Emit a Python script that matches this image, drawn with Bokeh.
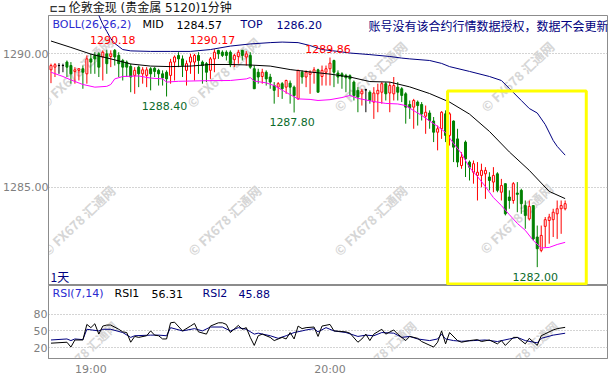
from bokeh.plotting import figure
from bokeh.layouts import column
from bokeh.models import Range1d, FixedTicker, Label, ColumnDataSource, PrintfTickFormatter
from bokeh.core.properties import value
from bokeh.embed import file_html
from bokeh.resources import INLINE

# ---------------- data (1-minute candles, index 0 = 18:50) ----------------
open_ = [1289.40,1289.50,1289.56,1289.56,1289.69,1289.56,1289.34,1289.38,1289.44,1289.25,
         1289.81,1289.94,1290.00,1289.88,1290.00,1289.90,1290.13,1289.94,1289.75,1289.69,
         1289.53,1289.19,1289.50,1289.25,1289.19,1289.44,1289.46,1289.38,1289.25,1289.31,
         1289.19,1289.69,1289.94,1289.81,1289.38,1289.69,1289.69,1289.94,1289.69,1289.63,
         1289.38,1289.81,1290.13,1290.06,1290.06,1290.06,1289.78,1289.90,1290.13,1289.88,
         1289.94,1289.44,1289.31,1289.15,1289.31,1289.13,1288.81,1288.75,1288.88,1288.75,
         1288.90,1288.75,1288.31,1289.31,1289.13,1289.23,1289.30,1289.40,1289.15,1289.31,
         1289.44,1289.75,1289.28,1289.25,1289.19,1289.18,1288.94,1288.63,1288.50,1288.65,
         1288.56,1288.19,1288.50,1288.56,1288.88,1288.53,1288.50,1288.75,1288.69,1288.50,
         1288.10,1288.00,1288.19,1288.10,1287.66,1287.78,1287.48,1287.06,1287.19,1287.75,
         1286.94,1287.48,1286.81,1285.81,1286.69,1285.94,1285.56,1285.44,1285.44,1285.50,
         1285.38,1285.19,1285.50,1284.81,1285.13,1284.63,1284.50,1284.78,1284.88,1284.31,
         1283.81,1284.31,1283.13,1282.63,1283.53,1283.75,1283.78,1284.00,1284.19,1284.19]
high_ = [1289.63,1289.65,1289.65,1289.63,1289.75,1289.69,1289.50,1289.46,1289.56,1289.94,
         1290.00,1290.06,1290.06,1290.13,1290.15,1290.13,1290.18,1290.06,1289.81,1289.75,
         1289.63,1289.50,1289.56,1289.50,1289.50,1289.50,1289.50,1289.44,1289.38,1289.38,
         1289.81,1289.94,1290.06,1289.94,1289.75,1290.00,1290.00,1290.06,1289.75,1289.69,
         1289.88,1290.17,1290.15,1290.13,1290.13,1290.13,1290.00,1290.15,1290.15,1290.10,
         1290.06,1289.56,1289.44,1289.44,1289.38,1289.25,1288.94,1288.94,1288.94,1289.03,
         1289.00,1288.81,1289.40,1289.38,1289.38,1289.38,1289.50,1289.44,1289.56,1289.56,
         1289.86,1289.78,1289.38,1289.31,1289.25,1289.23,1289.00,1288.75,1288.69,1288.69,
         1288.63,1288.75,1288.88,1288.94,1288.94,1288.94,1289.13,1288.94,1288.75,1288.56,
         1288.25,1288.31,1288.25,1288.19,1288.06,1287.88,1287.63,1287.31,1287.85,1287.88,
         1287.81,1287.50,1287.19,1286.31,1286.75,1286.00,1286.00,1285.94,1285.88,1285.75,
         1285.56,1285.75,1285.56,1285.31,1285.13,1284.88,1285.19,1285.19,1284.94,1284.50,
         1284.50,1284.31,1283.56,1283.56,1283.88,1284.00,1284.19,1284.50,1284.50,1284.50]
low_ = [1288.90,1289.13,1289.25,1289.31,1289.13,1288.88,1288.88,1289.00,1288.69,1288.88,
        1289.25,1289.25,1289.13,1289.00,1289.25,1289.50,1289.56,1289.13,1289.00,1289.13,
        1288.56,1288.50,1288.75,1288.88,1288.75,1288.63,1289.13,1288.81,1288.81,1288.40,
        1288.88,1289.00,1289.50,1289.13,1288.81,1289.25,1289.00,1289.25,1288.88,1288.94,
        1289.06,1289.31,1289.81,1289.88,1289.75,1289.50,1289.50,1289.63,1289.75,1289.56,
        1289.44,1288.69,1288.88,1288.88,1288.81,1288.69,1288.13,1288.38,1288.31,1288.50,
        1288.13,1287.80,1288.28,1288.88,1288.75,1288.50,1288.88,1288.56,1288.81,1288.81,
        1288.81,1288.75,1288.88,1288.69,1288.56,1288.44,1288.25,1287.81,1288.06,1287.81,
        1288.13,1287.56,1287.81,1288.13,1288.25,1287.81,1288.25,1288.25,1288.19,1287.38,
        1287.56,1287.19,1287.31,1287.50,1287.00,1287.19,1286.69,1286.38,1286.81,1286.69,
        1286.56,1285.94,1285.75,1285.69,1285.38,1285.25,1285.13,1284.50,1285.00,1284.56,
        1284.88,1284.81,1284.81,1284.50,1283.94,1284.19,1284.38,1284.06,1284.00,1283.44,
        1283.75,1283.00,1282.00,1282.56,1282.75,1282.88,1283.13,1283.06,1283.25,1284.13]
close_ = [1289.56,1289.59,1289.56,1289.56,1289.50,1289.25,1289.40,1289.44,1289.31,1289.81,
          1289.69,1289.81,1289.50,1290.06,1289.63,1290.00,1289.88,1289.63,1289.50,1289.50,
          1289.13,1289.38,1289.25,1289.40,1289.40,1289.25,1289.34,1289.25,1289.10,1289.06,
          1289.69,1289.88,1289.81,1289.56,1289.63,1289.88,1289.94,1289.75,1289.56,1289.31,
          1289.81,1290.06,1290.00,1289.94,1289.94,1289.63,1289.94,1290.06,1289.94,1290.00,
          1289.50,1288.69,1289.13,1289.31,1289.06,1288.94,1288.63,1288.88,1288.69,1289.00,
          1288.75,1288.44,1289.38,1289.13,1289.31,1289.31,1289.40,1288.56,1289.38,1289.44,
          1289.65,1289.31,1289.13,1289.15,1289.10,1289.06,1288.44,1288.38,1288.60,1288.65,
          1288.25,1288.53,1288.63,1288.88,1288.50,1288.81,1288.81,1288.56,1288.44,1288.00,
          1287.98,1288.25,1288.06,1287.75,1287.81,1287.50,1287.06,1287.19,1287.81,1286.94,
          1287.75,1286.50,1285.94,1286.13,1286.06,1285.75,1285.88,1285.56,1285.63,1285.63,
          1285.25,1285.44,1284.88,1285.06,1284.00,1284.50,1285.13,1284.73,1284.38,1283.94,
          1284.28,1283.06,1282.69,1283.19,1283.78,1283.88,1284.06,1284.19,1284.31,1284.38]

# Bollinger bands (26,26,2)
mid_idx = [0,5,10,15,20,25,30,35,40,45,50,55,60,65,70,75,80,85,90,95,100,105,110,115,120,125,129]
mid_val = [1290.48,1290.24,1289.99,1289.81,1289.62,1289.54,1289.52,1289.54,1289.60,1289.60,
           1289.58,1289.54,1289.41,1289.32,1289.24,1289.13,1288.96,1288.94,1288.76,1288.51,
           1288.19,1287.74,1287.09,1286.32,1285.63,1284.84,1284.57]
top_idx = [0,6,10,12,13,14,15,16,18,20,25,30,35,40,45,50,55,58,62,65,68,72,75,80,85,88,90,
           95,98,100,105,110,113,115,118,120,122,124,126,127,129]
top_val = [1292.30,1292.10,1291.80,1291.44,1291.10,1290.84,1290.57,1290.39,1290.16,1290.11,
           1290.09,1290.09,1290.09,1290.16,1290.29,1290.37,1290.42,1290.44,1290.42,1290.31,
           1290.16,1290.09,1290.03,1289.97,1289.90,1289.84,1289.81,1289.75,1289.64,1289.52,
           1289.34,1289.15,1289.00,1288.70,1288.25,1287.95,1287.78,1287.35,1286.75,1286.53,
           1286.20]
bot_idx = [0,3,5,8,11,14,15,16,18,22,25,28,29,32,38,45,49,50,51,54,56,58,60,62,65,67,70,73,
           75,77,79,81,84,87,89,91,93,95,97,99,101,103,105,107,109,111,113,115,117,119,121,
           123,125,127,129]
bot_val = [1289.31,1289.15,1289.02,1288.85,1288.75,1288.78,1288.85,1289.06,1289.15,1289.17,
           1289.09,1289.06,1288.94,1288.97,1288.99,1289.00,1289.06,1289.11,1288.98,1288.91,
           1288.81,1288.64,1288.47,1288.31,1288.29,1288.25,1288.28,1288.36,1288.44,1288.33,
           1288.27,1288.21,1288.14,1288.12,1288.06,1287.87,1287.69,1287.48,1287.28,1287.05,
           1286.64,1286.26,1285.74,1285.40,1285.02,1284.61,1284.31,1283.97,1283.64,1283.38,
           1283.00,1282.72,1282.74,1282.85,1282.93]

# RSI(7,14)
rsi1_idx = [0,4,5,6,8,9,10,11,12,13,14,15,17,18,19,20,21,22,24,25,26,27,28,29,30,31,33,35,36,
            37,39,40,42,43,44,45,47,48,49,50,51,52,53,55,56,58,59,60,61,62,63,64,66,67,68,70,
            71,74,75,77,78,79,80,81,83,84,86,87,89,90,92,93,96,97,98,99,100,102,103,105,107,
            108,110,112,113,114,116,117,119,120,122,123,126,127,129]
rsi1_val = [28.2,29.9,21.3,33.9,33.9,61.5,55.8,62.7,44.3,58.6,60.4,60.4,52.9,48.3,47.1,29.9,
            40.2,38.5,41.4,50.0,42.5,41.4,35.7,35.7,64.4,65.5,50.0,58.6,63.2,48.3,44.3,58.6,
            64.4,64.4,61.5,47.1,59.8,52.9,55.8,38.5,24.2,41.4,44.3,38.5,32.8,38.5,35.7,47.1,
            35.7,58.6,54.0,55.8,56.9,40.2,58.6,61.5,50.0,48.3,46.0,29.9,35.7,44.3,32.8,44.3,
            52.9,44.3,51.7,44.3,32.8,40.2,36.8,31.1,21.3,29.9,50.0,27.0,47.1,32.8,29.9,32.8,
            34.5,31.1,33.9,27.0,32.8,24.2,38.5,38.5,27.0,36.8,24.2,41.4,51.7,54.0,56.31]
rsi2_idx = [0,4,5,6,8,9,12,13,15,18,20,21,25,27,29,30,33,36,38,40,43,45,47,49,51,52,55,57,59,
            60,61,63,64,66,67,69,71,74,77,79,81,83,86,88,90,92,95,97,98,99,101,103,106,109,
            112,115,117,119,122,123,126,129]
rsi2_val = [33.9,35.7,32.8,35.7,34.5,52.9,50.0,52.9,52.9,47.1,38.5,41.4,42.5,42.5,41.4,55.8,
            50.0,54.0,50.0,56.9,56.9,50.0,55.8,52.9,44.3,46.0,41.4,36.8,41.4,44.3,47.1,50.0,
            51.7,54.0,48.3,55.8,50.0,47.1,40.2,42.5,41.4,47.1,46.0,38.5,40.2,35.7,32.8,35.7,
            44.3,35.7,32.8,31.6,32.8,33.9,31.1,35.7,38.5,32.8,28.8,36.8,42.5,45.88]

price_ticks = [1285, 1290]
rsi_ticks = [20, 50, 80]
time_tick_idx = [10, 70]
time_tick_labels = ["19:00", "20:00"]
hi_marks = [16, 41, 70]
lo_marks = [29, 61, 122]
chart_title = "伦敦金现 (贵金属 5120)1分钟"
notice = "账号没有该合约行情数据授权，数据不会更新"

# ---------------- layout constants (canvas pixels) ----------------
FL = 46          # frame left
MAIN_B = 285     # main frame bottom
RSI_B = 360      # rsi frame bottom
GRAY = "#8c8c8c"
TXT_GRAY = "#7f7f7f"
NAVY = "#000080"
BLUE = "#2a2ad0"
RED = "#ff0000"
GREEN = "#008000"
WM = "#d6d6d6"
NUMF = "DejaVu Sans"
CJK = "Noto Sans CJK SC"
TITLEF = "DejaVu Sans, Noto Sans CJK SC"

xr = Range1d(-0.625, 139.625)

# ---------------- title strip ----------------
t = figure(width=609, height=15, x_range=Range1d(0, 609), y_range=Range1d(15, 0),
           output_backend="svg", toolbar_location=None, title=None,
           x_axis_location=None, y_axis_location=None,
           min_border_left=0, min_border_right=0, min_border_top=0, min_border_bottom=0)
t.outline_line_color = None
t.grid.visible = False
t.background_fill_color = "white"
t.border_fill_color = "white"
t.text(x=[1], y=[7.5], text=["⊏⊐"], text_color="#333333", text_font=value(NUMF),
       text_font_size="10px", text_font_style="bold", text_baseline="middle")
t.text(x=[22], y=[7.5], text=[chart_title], text_color="#111111", text_font=value(TITLEF),
       text_font_size="12px", text_baseline="middle")

# ---------------- main price panel ----------------
p = figure(width=609, height=270, x_range=xr, y_range=Range1d(1281.312, 1291.437),
           output_backend="svg", toolbar_location=None, x_axis_location=None, title=None,
           min_border_left=FL, min_border_right=2, min_border_top=0, min_border_bottom=0)
p.background_fill_color = "white"
p.border_fill_color = "white"
p.outline_line_color = GRAY
p.xgrid.visible = False
p.ygrid.ticker = FixedTicker(ticks=price_ticks)
p.ygrid.grid_line_color = "#a8a8a8"
p.ygrid.grid_line_dash = "1 2"
ya = p.yaxis[0]
ya.ticker = FixedTicker(ticks=price_ticks)
ya.formatter = PrintfTickFormatter(format="%.2f")
ya.major_label_text_font = NUMF
ya.major_label_text_font_size = "11px"
ya.major_label_text_color = TXT_GRAY
ya.major_tick_out = 0
ya.major_tick_in = 0
ya.minor_tick_out = 0
ya.minor_tick_in = 0
ya.major_label_standoff = 0
ya.axis_line_color = GRAY

def slabel(fig, fb, cx, cy, text, color, size="11px", font=NUMF, align="left", **kw):
    fig.add_layout(Label(x=cx - FL, y=fb - cy, x_units="screen", y_units="screen", text=text,
                         text_color=color, text_font=font, text_font_size=size,
                         text_align=align, text_baseline="middle", **kw))

# watermarks
for (cx, cy) in [(74, 72), (221, 72), (368, 76), (515, 76), (76, 220), (222, 220), (368, 220), (514, 218)]:
    slabel(p, MAIN_B, cx, cy, "© FX678 汇通网", WM, size="13px", font=CJK, align="center",
           angle=0.76, text_font_style="bold", level="underlay")

# candles
inc = [c > o for o, c in zip(open_, close_)]
dec = [c < o for o, c in zip(open_, close_)]
col = [RED if i_ else (GREEN if d_ else "#000000") for i_, d_ in zip(inc, dec)]
fill = ["#ffffff" if i_ else cc for i_, cc in zip(inc, col)]
src = ColumnDataSource(dict(x=list(range(len(open_))), h=high_, l=low_,
                            top=[max(o, c) for o, c in zip(open_, close_)],
                            bot=[min(o, c) for o, c in zip(open_, close_)],
                            col=col, fill=fill))
p.segment(x0="x", y0="l", x1="x", y1="h", line_color="col", line_width=1, source=src)
p.vbar(x="x", width=0.5, top="top", bottom="bot", fill_color="fill", line_color="col",
       line_width=1, source=src)

# bands
p.line(mid_idx, mid_val, line_color="black", line_width=1)
p.line(top_idx, top_val, line_color=NAVY, line_width=1)
p.line(bot_idx, bot_val, line_color="#ff00ff", line_width=1)

# high / low marks
p.text(x=hi_marks, y=[high_[i] for i in hi_marks], text=["%.2f" % high_[i] for i in hi_marks],
       text_color=RED, text_font=value(NUMF), text_font_size="11px", text_align="center",
       text_baseline="middle", x_offset=-2, y_offset=-9)
p.text(x=lo_marks, y=[low_[i] for i in lo_marks], text=["%.2f" % low_[i] for i in lo_marks],
       text_color="#0b6b2b", text_font=value(NUMF), text_font_size="11px", text_align="center",
       text_baseline="middle", x_offset=-2, y_offset=10)

# yellow highlight box
p.quad(left=99.5, right=134.3, top=1288.61, bottom=1281.37, fill_alpha=0,
       line_color="#ffff00", line_width=3)

# header
slabel(p, MAIN_B, 50, 24, "BOLL(26,26,2)", BLUE)
slabel(p, MAIN_B, 140, 24, "MID", "black")
slabel(p, MAIN_B, 174, 24, "%.2f" % mid_val[-1], "black")
slabel(p, MAIN_B, 238, 24, "TOP", NAVY)
slabel(p, MAIN_B, 274, 24, "%.2f" % top_val[-1], NAVY)
slabel(p, MAIN_B, 606, 25, notice, NAVY, size="12px", font=CJK, align="right")
slabel(p, MAIN_B, 48, 276, "1天", NAVY, size="12px", font=CJK)

# ---------------- RSI panel ----------------
r = figure(width=609, height=93, x_range=xr, y_range=Range1d(0.98, 130.67),
           output_backend="svg", toolbar_location=None, title=None,
           min_border_left=FL, min_border_right=2, min_border_top=0, min_border_bottom=18)
r.background_fill_color = "white"
r.border_fill_color = "white"
r.outline_line_color = GRAY
r.xgrid.visible = False
r.ygrid.ticker = FixedTicker(ticks=rsi_ticks)
r.ygrid.grid_line_color = "#a8a8a8"
r.ygrid.grid_line_dash = "1 2"
ry = r.yaxis[0]
ry.ticker = FixedTicker(ticks=rsi_ticks)
rx = r.xaxis[0]
rx.ticker = FixedTicker(ticks=time_tick_idx)
rx.major_label_overrides = {tk: s for tk, s in zip(time_tick_idx, time_tick_labels)}
for ax in (ry, rx):
    ax.major_label_text_font = NUMF
    ax.major_label_text_font_size = "11px"
    ax.major_label_text_color = TXT_GRAY
    ax.major_tick_out = 0
    ax.major_tick_in = 0
    ax.minor_tick_out = 0
    ax.minor_tick_in = 0
    ax.axis_line_color = GRAY
ry.major_label_standoff = 1
rx.major_label_standoff = 4

# watermark fragments at the bottom edge
for (cx, cy) in [(93, 343), (392, 343), (534, 343)]:
    slabel(r, RSI_B, cx, cy, "78 汇通网", WM, size="12px", font=CJK, align="center",
           angle=0.76, text_font_style="bold", level="underlay")

r.line(rsi2_idx, rsi2_val, line_color=NAVY, line_width=1)
r.line(rsi1_idx, rsi1_val, line_color="black", line_width=1)

slabel(r, RSI_B, 50, 295, "RSI(7,14)", BLUE)
slabel(r, RSI_B, 112, 295, "RSI1", "black")
slabel(r, RSI_B, 149, 295, "%.2f" % rsi1_val[-1], "black")
slabel(r, RSI_B, 200, 295, "RSI2", NAVY)
slabel(r, RSI_B, 236, 295, "%.2f" % rsi2_val[-1], NAVY)

layout = column(t, p, r, spacing=0)
open("out.html", "w").write(file_html(layout, INLINE))
